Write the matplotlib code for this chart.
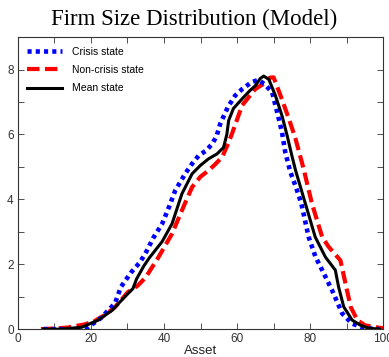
import matplotlib
matplotlib.use("Agg")
import matplotlib.pyplot as plt
from matplotlib.ticker import MultipleLocator, FuncFormatter

# Crisis state
crisis_x = [7, 12, 16.5, 19.2, 22.7, 26.6, 28.2, 31, 33.4, 34.9, 37, 39.5, 41.5, 43.1,
            45.8, 47.7, 49.5, 51.5, 53.2, 54.4, 55.4, 57.5, 59.5, 61.4, 64.1, 65.9, 67.5,
            69.6, 71, 72.3, 73.2, 74.6, 76.2, 77.6, 79.6, 81.5, 83.3, 86, 88.8, 91.5, 95, 99]
crisis_y = [0, 0, 0, 0.06, 0.34, 0.8, 1.3, 1.75, 2.06, 2.33, 2.8, 3.25, 3.8, 4.28,
            4.79, 5.1, 5.35, 5.5, 5.71, 5.95, 6.33, 6.85, 7.2, 7.4, 7.62, 7.68, 7.55,
            7.3, 6.68, 6.07, 5.45, 4.84, 4.35, 3.87, 2.84, 2.22, 1.82, 1.2, 0.48, 0.17, 0.03, 0]

# Non-crisis state
noncrisis_x = [6.3, 10, 13.7, 18.4, 21, 24, 26.6, 30.1, 32.9, 35, 38.5, 42.2, 44.9,
               47.7, 50, 52.2, 54, 55.9, 57.5, 58.6, 61.4, 65, 67.8, 69, 70, 71.9, 74.2, 76,
               78.2, 80.5, 83.3, 85, 86.5, 88.3, 89.7, 91.1, 92.9, 95, 97.8, 100]
noncrisis_y = [0, 0.02, 0.05, 0.15, 0.25, 0.45, 0.68, 1.14, 1.35, 1.6, 2.22, 2.94, 3.66,
               4.38, 4.7, 4.89, 5.08, 5.3, 5.7, 6.02, 6.9, 7.4, 7.6, 7.75, 7.76, 7.2, 6.48, 5.87,
               4.95, 3.87, 2.84, 2.55, 2.35, 2.12, 1.4, 0.69, 0.28, 0.12, 0.06, 0.03]

# Mean state
mean_x = [7, 12, 17.5, 22, 25.8, 29.3, 31.5, 32.5, 34.5, 36, 39.5, 42.2, 44.9, 47.7,
          50, 52.2, 54.5, 56.3, 57.2, 57.7, 59, 61.4, 63.5, 65, 66.3, 67.3, 68.7,
          70.5, 72.3, 73.7, 75, 76, 78.7, 81.4, 84.2, 86.9, 87.8, 89.2, 91.5, 93.8, 96, 99]
mean_y = [0, 0, 0.06, 0.28, 0.58, 1.0, 1.25, 1.55, 1.95, 2.2, 2.7, 3.25, 4.17, 4.79,
          5.05, 5.25, 5.4, 5.6, 6.0, 6.43, 6.8, 7.1, 7.35, 7.5, 7.72, 7.8, 7.7,
          7.2, 6.58, 5.97, 5.35, 4.9, 3.87, 2.84, 2.22, 1.82, 1.3, 0.69, 0.28, 0.12, 0.03, 0]

title = "Firm Size Distribution (Model)"
xlabel = "Asset"

plt.rcParams['font.family'] = ['Liberation Sans', 'DejaVu Sans']

fig = plt.figure(figsize=(3.89, 3.57), dpi=100)
ax = fig.add_axes([0.046, 0.078, 0.939, 0.818])

ax.plot(crisis_x, crisis_y, color='#0000ff', lw=3.3, linestyle=(0, (0.9, 0.9)),
        label='Crisis state', zorder=3)
ax.plot(noncrisis_x, noncrisis_y, color='#ff0000', lw=3.0, linestyle=(0, (3.0, 1.3)),
        label='Non-crisis state', zorder=2)
ax.plot(mean_x, mean_y, color='black', lw=2.2, label='Mean state', zorder=4,
        solid_joinstyle='round')

ax.set_xlim(0, 100)
ax.set_ylim(0, 9)
ax.xaxis.set_major_locator(MultipleLocator(10))
ax.yaxis.set_major_locator(MultipleLocator(1))
ax.xaxis.set_major_formatter(FuncFormatter(lambda v, p: f"{int(round(v))}" if round(v) % 20 == 0 else ""))
ax.yaxis.set_major_formatter(FuncFormatter(lambda v, p: f"{int(round(v))}" if round(v) % 2 == 0 else ""))
ax.tick_params(direction='in', top=True, right=True, length=4, width=0.6,
               labelsize=8.5, colors='#333333', pad=3)
for s in ax.spines.values():
    s.set_color('#333333')
    s.set_linewidth(0.8)

ax.set_xlabel(xlabel, fontsize=9.5, labelpad=0, color='#222222')
fig.suptitle(title, fontsize=16.5, family=['Liberation Serif', 'DejaVu Serif'], y=0.975)

ax.legend(loc='upper left', frameon=False, fontsize=7.5, handlelength=3.3,
          labelspacing=0.8, borderaxespad=0.5, handletextpad=1.0)

fig.savefig("out.png", dpi=100)
